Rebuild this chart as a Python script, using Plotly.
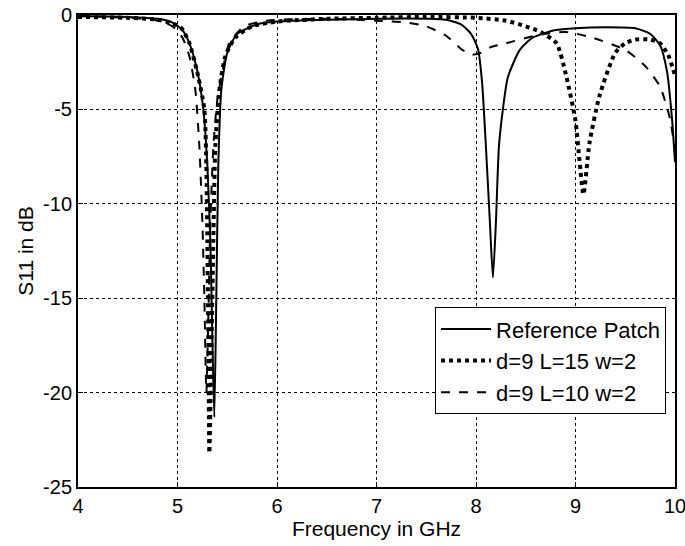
import plotly.graph_objects as go

# Reference Patch (solid)
ref_f = [4.0, 4.5, 4.8, 4.95, 5.05, 5.12, 5.2, 5.26, 5.3, 5.33, 5.35, 5.37, 5.39, 5.41, 5.44, 5.5,
         5.6, 5.8, 6.0, 6.5, 7.0, 7.5, 7.7, 7.85, 7.95, 8.02, 8.06, 8.1, 8.14, 8.17, 8.2, 8.23,
         8.27, 8.32, 8.44, 8.57, 8.8, 9.0, 9.3, 9.6, 9.75, 9.85, 9.92, 9.97, 10.0]
ref_s = [-0.05, -0.1, -0.2, -0.4, -0.8, -1.5, -3.0, -5.0, -8.0, -12.0, -17.0, -21.3, -15.0, -8.0, -4.0, -2.0,
         -1.0, -0.5, -0.35, -0.25, -0.2, -0.2, -0.25, -0.5, -1.0, -1.8, -3.5, -7.0, -11.0, -13.9, -11.0, -7.0,
         -5.0, -3.3, -1.85, -1.2, -0.8, -0.7, -0.65, -0.7, -1.0, -1.6, -3.0, -5.5, -7.8]

# d=9 L=15 w=2 (dotted)
l15_f = [4.0, 4.5, 4.8, 4.95, 5.04, 5.12, 5.21, 5.27, 5.29, 5.3, 5.31, 5.32, 5.34, 5.36, 5.38, 5.42,
         5.48, 5.58, 5.75, 6.0, 6.5, 7.0, 7.5, 8.0, 8.3, 8.5, 8.65, 8.81, 8.91, 9.0, 9.04, 9.08,
         9.14, 9.24, 9.4, 9.5, 9.6, 9.75, 9.85, 9.93, 10.0]
l15_s = [-0.1, -0.15, -0.25, -0.45, -0.7, -1.5, -3.3, -5.0, -8.0, -12.0, -17.0, -23.2, -18.0, -12.0, -7.0, -4.0,
         -2.2, -1.2, -0.6, -0.35, -0.2, -0.15, -0.1, -0.15, -0.3, -0.6, -0.9, -1.5, -3.3, -5.6, -7.7, -9.5,
         -6.8, -4.3, -2.0, -1.5, -1.3, -1.3, -1.5, -2.1, -3.2]

# d=9 L=10 w=2 (dashed)
l10_f = [4.0, 4.5, 4.8, 4.95, 5.05, 5.12, 5.18, 5.22, 5.25, 5.27, 5.29, 5.31, 5.33, 5.36, 5.4, 5.44,
         5.52, 5.67, 5.9, 6.5, 7.0, 7.3, 7.5, 7.7, 7.85, 7.95, 8.05, 8.15, 8.3, 8.63, 8.9, 9.17,
         9.5, 9.7, 9.85, 9.95, 10.0]
l10_s = [-0.05, -0.15, -0.3, -0.6, -1.2, -2.2, -4.0, -7.0, -11.0, -15.0, -20.0, -16.0, -11.0, -7.0, -4.5, -3.3,
         -1.5, -0.6, -0.3, -0.2, -0.3, -0.4, -0.6, -1.1, -1.8, -2.1, -2.0, -1.7, -1.5, -1.05, -0.9, -1.2,
         -1.85, -2.7, -3.8, -5.5, -7.2]

x_ticks = [4, 5, 6, 7, 8, 9, 10]
y_ticks = [0, -5, -10, -15, -20, -25]

FONT = "Liberation Sans"

fig = go.Figure()
fig.add_trace(go.Scatter(x=ref_f, y=ref_s, mode="lines", name="Reference Patch",
                         line=dict(color="black", width=2, dash="solid", shape="spline", smoothing=0.6)))
fig.add_trace(go.Scatter(x=l15_f, y=l15_s, mode="lines", name="d=9 L=15 w=2",
                         line=dict(color="black", width=4, dash="dot", shape="spline", smoothing=0.6)))
fig.add_trace(go.Scatter(x=l10_f, y=l10_s, mode="lines", name="d=9 L=10 w=2",
                         line=dict(color="black", width=2, dash="dash", shape="spline", smoothing=0.6)))

axis_common = dict(showline=True, linecolor="black", linewidth=2, mirror=True,
                   ticks="inside", ticklen=5, tickcolor="black",
                   showgrid=True, gridcolor="black", gridwidth=1, griddash="dot",
                   zeroline=False, ticklabeloverflow="allow", automargin=False,
                   tickfont=dict(family=FONT, size=20, color="black"))

fig.update_xaxes(range=[4, 10], tickvals=x_ticks, ticktext=[str(v) for v in x_ticks],
                 title=dict(text="Frequency in GHz", font=dict(family=FONT, size=21, color="black"), standoff=2),
                 **axis_common)
fig.update_yaxes(range=[-25, 0], tickvals=y_ticks, ticktext=[str(v) for v in y_ticks],
                 title=dict(text="S11 in dB", font=dict(family=FONT, size=21, color="black"), standoff=4),
                 **axis_common)

fig.update_layout(
    width=685, height=546,
    margin=dict(l=78, r=10, t=15, b=59, autoexpand=False),
    paper_bgcolor="white", plot_bgcolor="white",
    showlegend=True,
    legend=dict(x=0.985, y=0.381, xanchor="right", yanchor="top",
                bgcolor="white", bordercolor="black", borderwidth=1,
                font=dict(family=FONT, size=22, color="black"),
                tracegroupgap=0, itemwidth=50),
)

fig.write_html("out.html", config={"displayModeBar": False},
               post_script="document.body.style.margin='0';document.body.style.overflow='hidden';")
